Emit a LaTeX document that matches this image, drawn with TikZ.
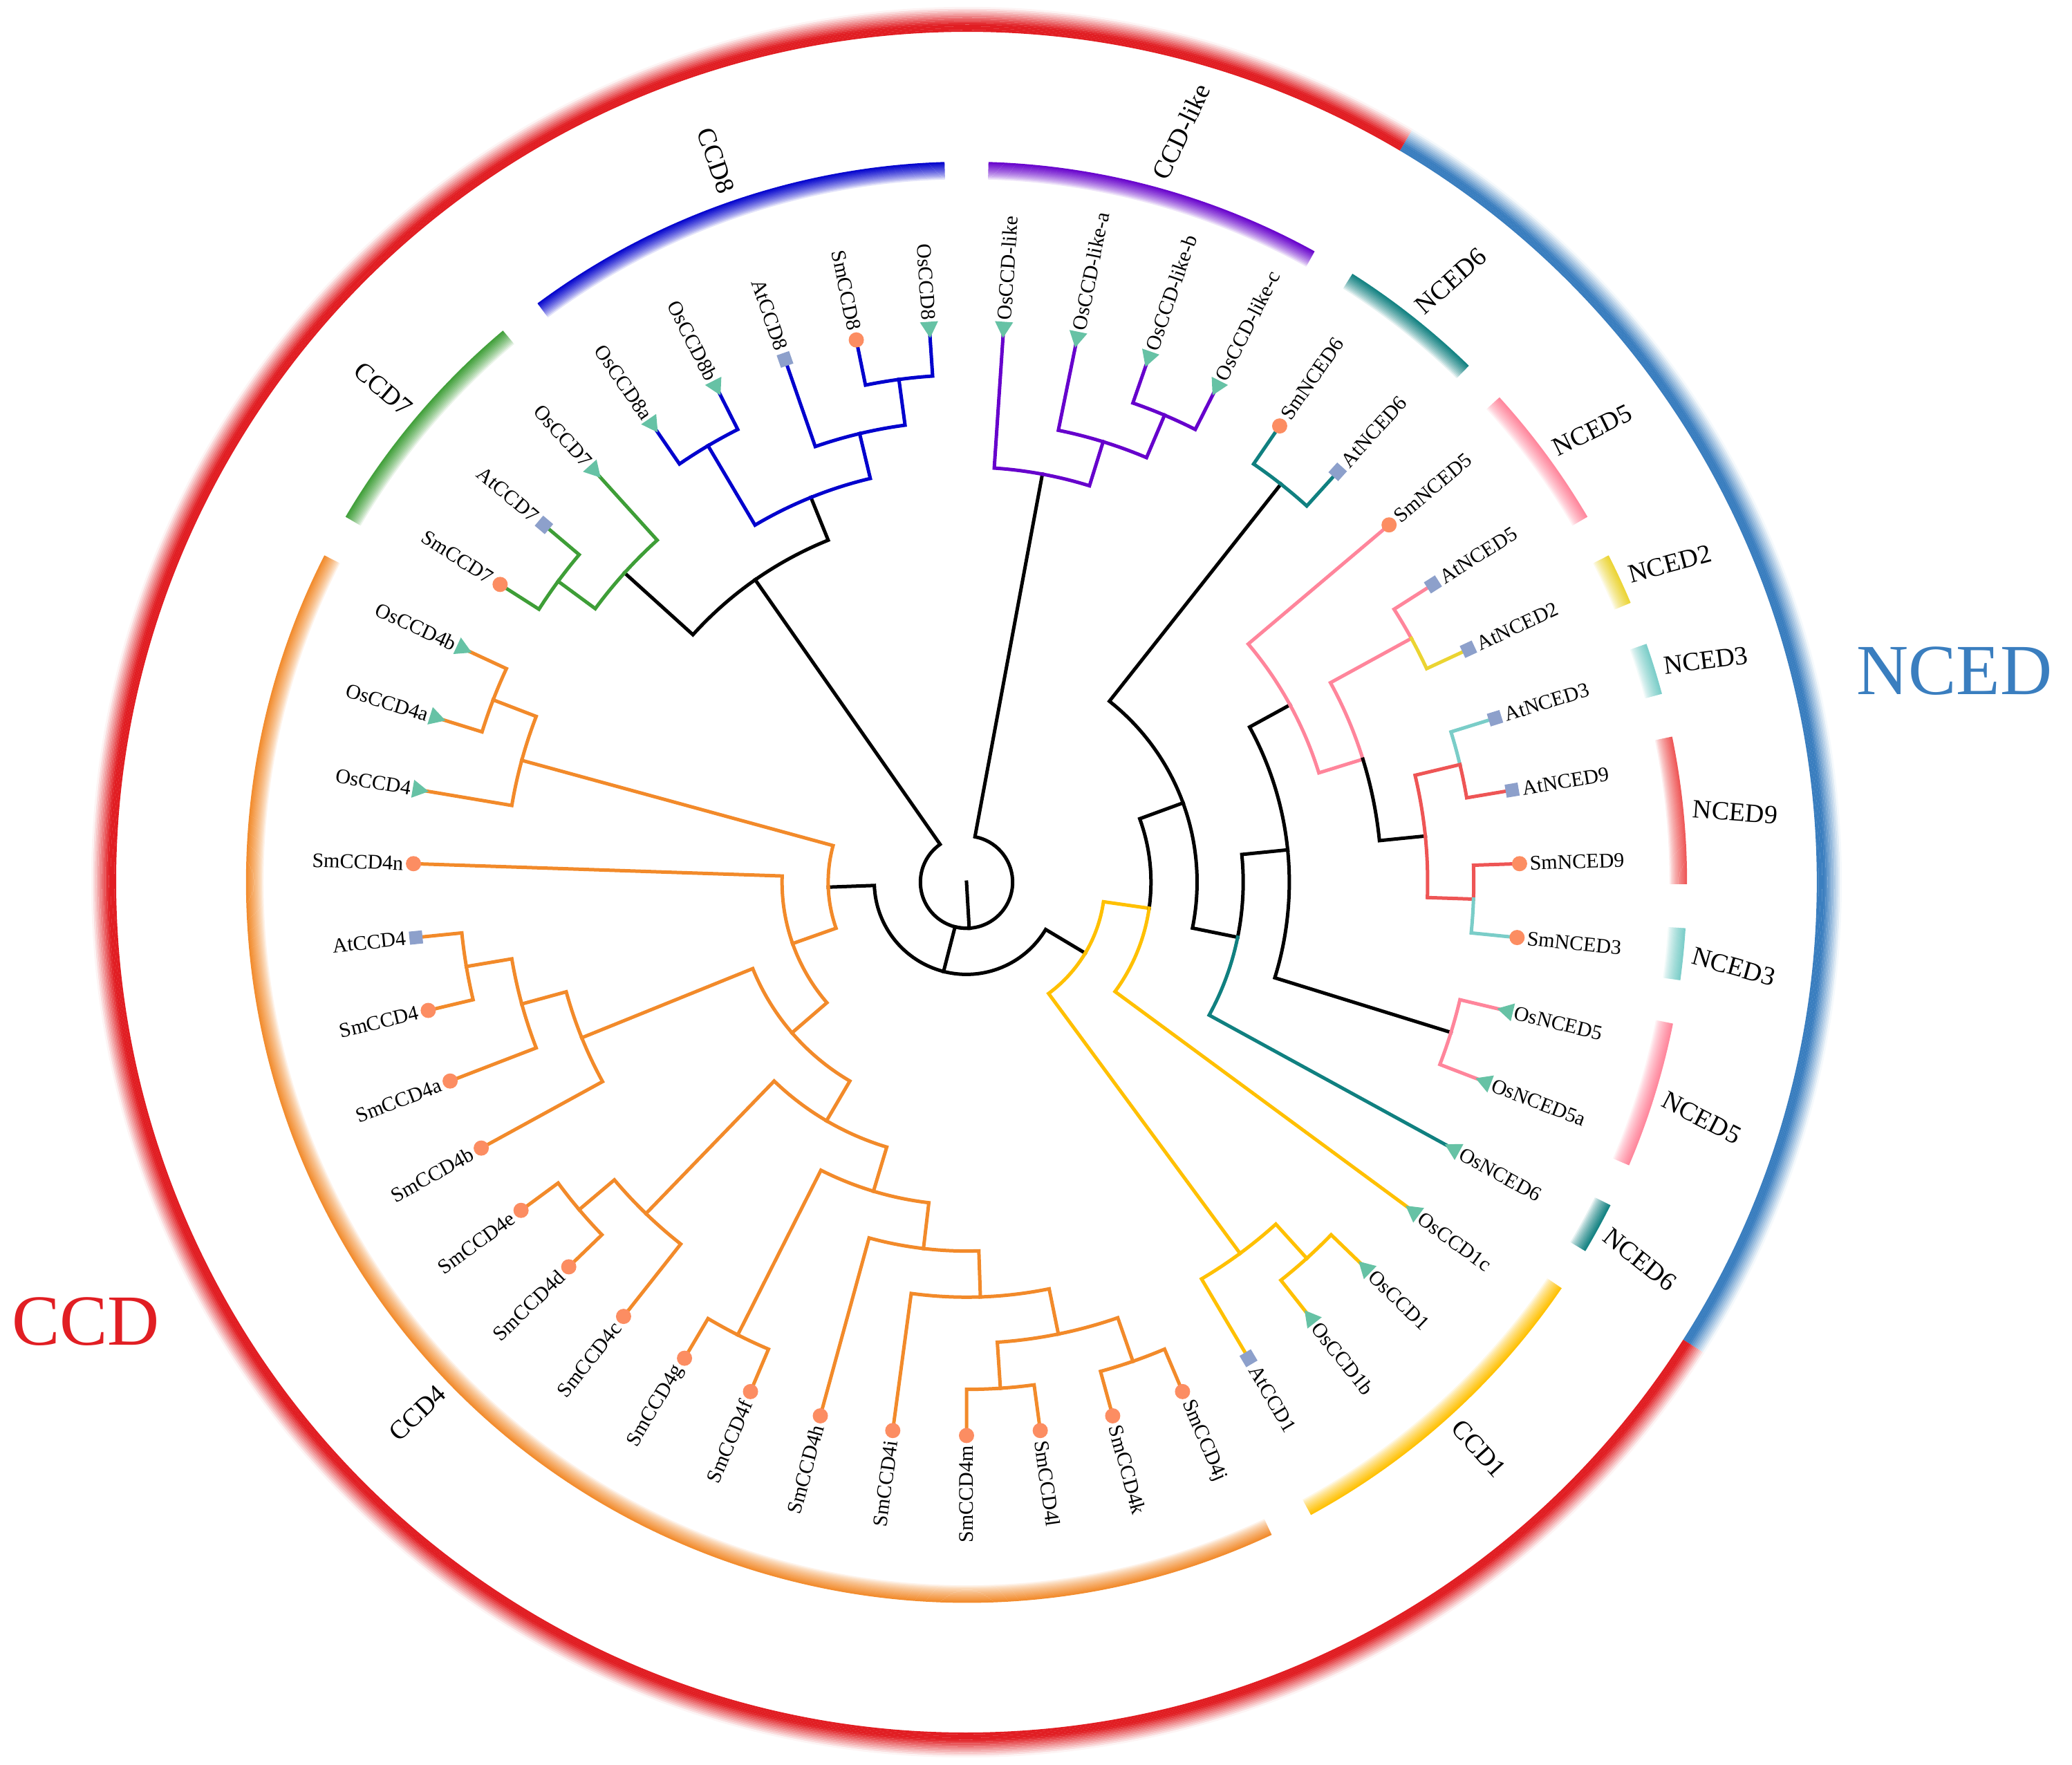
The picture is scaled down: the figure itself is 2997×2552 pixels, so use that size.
\documentclass[tikz,border=0pt]{standalone}
\usepackage{fontspec}
\setmainfont{Liberation Serif}
\definecolor{cpurple}{RGB}{102,0,204}
\definecolor{cblue}{RGB}{0,0,205}
\definecolor{cgreen}{RGB}{62,158,55}
\definecolor{cteal}{RGB}{16,128,128}
\definecolor{cpink}{RGB}{255,133,155}
\definecolor{cyeltwo}{RGB}{235,212,50}
\definecolor{clteal}{RGB}{122,205,200}
\definecolor{cred}{RGB}{238,85,85}
\definecolor{cgold}{RGB}{255,192,0}
\definecolor{corange}{RGB}{242,138,42}
\definecolor{bigred}{RGB}{225,30,35}
\definecolor{bigblue}{RGB}{58,126,191}
\definecolor{mos}{RGB}{102,194,165}
\definecolor{msm}{RGB}{252,141,98}
\definecolor{mat}{RGB}{141,160,203}
% edge: colour, parent, parent angle, parent radius, child angle, child
\newcommand\brc[6]{\draw[branch,draw=#1] (#2) arc[start angle=#3,end angle=#5,radius=#4pt] -- (#6);}
\newcommand\cladering[3]{%
  \foreach \k in {0,...,11}{%
    \pgfmathsetmacro\rr{1017+25*(\k+0.5)/12}%
    \pgfmathsetmacro\pc{100*((\k+0.5)/12)^0.7}%
    \draw[line width=2.5pt,line cap=butt,draw=#1!\pc!white] (#2:\rr) arc[start angle=#2,end angle=#3,radius=\rr pt];}}
\newcommand\bigring[3]{%
  \foreach \k in {0,...,13}{%
    \pgfmathsetmacro\rr{1230+36*(\k+0.5)/14}%
    \pgfmathsetmacro\pc{min(100,140*(1-(\k+0.5)/14))}%
    \draw[line width=2.8pt,line cap=butt,draw=#1!\pc!white] (#2:\rr) arc[start angle=#2,end angle=#3,radius=\rr pt];}}
\newcommand\leafmarkO[2]{\fill[mos] (#1:789) -- ({#1+0.93}:812.5) -- ({#1-0.93}:812.5) -- cycle;}
\newcommand\leafmarkS[2]{\fill[msm] (t#2) circle[radius=11pt];}
\newcommand\leafmarkA[2]{\node[fill=mat,minimum size=19pt,inner sep=0pt,rotate=#1] (m#2) at (t#2) {};}
\def\leaflist{0/86.170/O/OsCCD-like,1/78.511/O/OsCCD-like-a,2/70.851/O/OsCCD-like-b,3/63.191/O/OsCCD-like-c,
4/55.532/S/SmNCED6,5/47.872/A/AtNCED6,6/40.213/S/SmNCED5,7/32.553/A/AtNCED5,8/24.894/A/AtNCED2,
9/17.234/A/AtNCED3,10/9.574/A/AtNCED9,11/1.915/S/SmNCED9,12/-5.745/S/SmNCED3,13/-13.404/O/OsNCED5,
14/-21.064/O/OsNCED5a,15/-28.723/O/OsNCED6,16/-36.383/O/OsCCD1c,17/-44.043/O/OsCCD1,18/-51.702/O/OsCCD1b,
19/-59.362/A/AtCCD1,20/-67.021/S/SmCCD4j,21/-74.681/S/SmCCD4k,22/-82.340/S/SmCCD4l,23/-90.000/S/SmCCD4m,
24/-97.660/S/SmCCD4i,25/-105.319/S/SmCCD4h,26/-112.979/S/SmCCD4f,27/-120.638/S/SmCCD4g,28/-128.298/S/SmCCD4c,
29/-135.957/S/SmCCD4d,30/-143.617/S/SmCCD4e,31/-151.277/S/SmCCD4b,32/-158.936/S/SmCCD4a,33/-166.596/S/SmCCD4,
34/-174.255/A/AtCCD4,35/-181.915/S/SmCCD4n,36/-189.574/O/OsCCD4,37/-197.234/O/OsCCD4a,38/-204.894/O/OsCCD4b,
39/-212.553/S/SmCCD7,40/-220.213/A/AtCCD7,41/-227.872/O/OsCCD7,42/-235.532/O/OsCCD8a,43/-243.191/O/OsCCD8b,
44/-250.851/A/AtCCD8,45/-258.511/S/SmCCD8,46/-266.170/O/OsCCD8}
\begin{document}
\begin{tikzpicture}[x=1pt,y=1pt,
  branch/.style={line width=5pt,line cap=rect,line join=miter},
  lab/.style={font=\fontsize{30}{36}\selectfont,inner sep=0pt},
  clab/.style={font=\fontsize{38}{44}\selectfont,inner sep=0pt},
  biglab/.style={font=\fontsize{104}{120}\selectfont,inner sep=0pt}]
\useasboundingbox (-1398,-1276) rectangle (1599,1276);
% ---------- outer rings ----------
\bigring{bigblue}{59.361}{-32.553}
\bigring{bigred}{-32.553}{-300.639}
\node[biglab,text=bigred] (bigccd) at (-1274,-636) {CCD};
\node[biglab,text=bigblue] (bignced) at (1429,305) {NCED};
% ---------- clade rings ----------
\cladering{cpurple}{88.25}{61.111}
\cladering{cteal}{57.612}{45.792}
\cladering{cpink}{42.293}{30.473}
\cladering{cyeltwo}{26.974}{22.814}
\cladering{clteal}{19.314}{15.154}
\cladering{cred}{11.654}{-0.165}
\cladering{clteal}{-3.665}{-7.825}
\cladering{cpink}{-11.324}{-23.144}
\cladering{cteal}{-26.643}{-30.803}
\cladering{cgold}{-34.303}{-61.442}
\cladering{corange}{-64.941}{-206.974}
\cladering{cgreen}{-210.473}{-229.952}
\cladering{cblue}{-233.452}{-268.250}
\node[clab,anchor=west,rotate=64.68] (lb1) at (74.68:1056) {CCD-like};
\node[clab,anchor=west,rotate=41.702] (lb2) at (51.702:1056) {NCED6};
\node[clab,anchor=west,rotate=26.383] (lb3) at (36.383:1056) {NCED5};
\node[clab,anchor=west,rotate=14.894] (lb4) at (24.894:1056) {NCED2};
\node[clab,anchor=west,rotate=7.234] (lb5) at (17.234:1056) {NCED3};
\node[clab,anchor=west,rotate=-4.255] (lb6) at (5.745:1056) {NCED9};
\node[clab,anchor=west,rotate=-15.745] (lb7) at (-5.745:1056) {NCED3};
\node[clab,anchor=west,rotate=-27.234] (lb8) at (-17.234:1056) {NCED5};
\node[clab,anchor=west,rotate=-38.723] (lb9) at (-28.723:1056) {NCED6};
\node[clab,anchor=west,rotate=-47.872] (lb10) at (-47.872:1056) {CCD1};
\node[clab,anchor=east,rotate=44.043] (lb11) at (-135.957:1056) {CCD4};
\node[clab,anchor=east,rotate=-40.213] (lb12) at (-220.213:1056) {CCD7};
\node[clab,anchor=east,rotate=-70.851] (lb13) at (-250.851:1056) {CCD8};
% ---------- tree coordinates ----------
\foreach \i/\a/\t/\n in \leaflist {\coordinate (t\i) at (\a:800.4);}
\coordinate (ctr) at (0,0);
\coordinate (rt) at (-86.664:66.7);
\coordinate (Ncl) at (79.468:600.3);
\coordinate (X) at (72.766:667.0);
\coordinate (Y) at (67.021:733.7);
\coordinate (A) at (-104.407:133.4);
\coordinate (B) at (-30.878:200.1);
\coordinate (C) at (-8.138:266.8);
\coordinate (D) at (20.106:333.5);
\coordinate (E6) at (51.702:733.7);
\coordinate (F) at (-11.489:400.2);
\coordinate (G) at (5.745:466.9);
\coordinate (O5) at (-17.234:733.7);
\coordinate (H) at (28.723:533.6);
\coordinate (I) at (17.234:600.3);
\coordinate (J) at (28.723:733.7);
\coordinate (K) at (5.745:667.0);
\coordinate (L) at (13.404:733.7);
\coordinate (Lb) at (-1.915:733.7);
\coordinate (V) at (-53.617:667.0);
\coordinate (W) at (-47.872:733.7);
\coordinate (N4) at (-177.936:200.1);
\coordinate (Os4) at (-195.319:667.0);
\coordinate (Os4ab) at (-201.064:733.7);
\coordinate (N4b) at (-160.552:266.8);
\coordinate (N4c) at (-139.189:333.5);
\coordinate (N4e) at (-157.979:600.3);
\coordinate (N4f) at (-164.681:667.0);
\coordinate (N4g) at (-170.426:733.7);
\coordinate (N4d) at (-120.399:400.2);
\coordinate (N4h) at (-134.043:667.0);
\coordinate (N4i) at (-139.787:733.7);
\coordinate (N4j) at (-106.755:466.9);
\coordinate (N4k) at (-116.809:733.7);
\coordinate (N4l) at (-96.702:533.6);
\coordinate (N4m) at (-88.085:600.3);
\coordinate (N4n) at (-78.511:667.0);
\coordinate (N4o) at (-86.170:733.7);
\coordinate (N4p) at (-70.851:733.7);
\coordinate (M) at (-235.053:533.6);
\coordinate (P) at (-222.128:667.0);
\coordinate (Q) at (-216.383:733.7);
\coordinate (R) at (-247.979:600.3);
\coordinate (S) at (-239.362:733.7);
\coordinate (T) at (-256.596:667.0);
\coordinate (U) at (-262.340:733.7);
% ---------- branches ----------
\draw[branch] (ctr) -- (rt);
\brc{black}{rt}{-86.664}{66.7}{79.468}{Ncl}
\brc{black}{rt}{-86.664}{66.7}{-235.053}{M}
\brc{black}{rt}{-86.664}{66.7}{-104.407}{A}
% CCD-like
\brc{cpurple}{Ncl}{79.468}{600.3}{86.170}{t0}
\brc{cpurple}{Ncl}{79.468}{600.3}{72.766}{X}
\brc{cpurple}{X}{72.766}{667.0}{78.511}{t1}
\brc{cpurple}{X}{72.766}{667.0}{67.021}{Y}
\brc{cpurple}{Y}{67.021}{733.7}{70.851}{t2}
\brc{cpurple}{Y}{67.021}{733.7}{63.191}{t3}
% A
\brc{black}{A}{-104.407}{133.4}{-177.936}{N4}
\brc{black}{A}{-104.407}{133.4}{-30.878}{B}
\brc{cgold}{B}{-30.878}{200.1}{-8.138}{C}
\brc{cgold}{B}{-30.878}{200.1}{-53.617}{V}
\brc{black}{C}{-8.138}{266.8}{20.106}{D}
\brc{cgold}{C}{-8.138}{266.8}{-36.383}{t16}
\brc{black}{D}{20.106}{333.5}{51.702}{E6}
\brc{black}{D}{20.106}{333.5}{-11.489}{F}
\brc{cteal}{E6}{51.702}{733.7}{55.532}{t4}
\brc{cteal}{E6}{51.702}{733.7}{47.872}{t5}
\brc{black}{F}{-11.489}{400.2}{5.745}{G}
\brc{cteal}{F}{-11.489}{400.2}{-28.723}{t15}
\brc{black}{G}{5.745}{466.9}{28.723}{H}
\brc{black}{G}{5.745}{466.9}{-17.234}{O5}
\brc{cpink}{O5}{-17.234}{733.7}{-13.404}{t13}
\brc{cpink}{O5}{-17.234}{733.7}{-21.064}{t14}
\brc{cpink}{H}{28.723}{533.6}{40.213}{t6}
\brc{cpink}{H}{28.723}{533.6}{17.234}{I}
\brc{cpink}{I}{17.234}{600.3}{28.723}{J}
\brc{black}{I}{17.234}{600.3}{5.745}{K}
\brc{cpink}{J}{28.723}{733.7}{32.553}{t7}
\brc{cyeltwo}{J}{28.723}{733.7}{24.894}{t8}
\brc{cred}{K}{5.745}{667.0}{13.404}{L}
\brc{cred}{K}{5.745}{667.0}{-1.915}{Lb}
\brc{clteal}{L}{13.404}{733.7}{17.234}{t9}
\brc{cred}{L}{13.404}{733.7}{9.574}{t10}
\brc{cred}{Lb}{-1.915}{733.7}{1.915}{t11}
\brc{clteal}{Lb}{-1.915}{733.7}{-5.745}{t12}
\brc{cgold}{V}{-53.617}{667.0}{-47.872}{W}
\brc{cgold}{V}{-53.617}{667.0}{-59.362}{t19}
\brc{cgold}{W}{-47.872}{733.7}{-44.043}{t17}
\brc{cgold}{W}{-47.872}{733.7}{-51.702}{t18}
% CCD4
\brc{corange}{N4}{-177.936}{200.1}{-195.319}{Os4}
\brc{corange}{N4}{-177.936}{200.1}{-160.552}{N4b}
\brc{corange}{Os4}{-195.319}{667.0}{-189.574}{t36}
\brc{corange}{Os4}{-195.319}{667.0}{-201.064}{Os4ab}
\brc{corange}{Os4ab}{-201.064}{733.7}{-197.234}{t37}
\brc{corange}{Os4ab}{-201.064}{733.7}{-204.894}{t38}
\brc{corange}{N4b}{-160.552}{266.8}{-181.915}{t35}
\brc{corange}{N4b}{-160.552}{266.8}{-139.189}{N4c}
\brc{corange}{N4c}{-139.189}{333.5}{-157.979}{N4e}
\brc{corange}{N4c}{-139.189}{333.5}{-120.399}{N4d}
\brc{corange}{N4e}{-157.979}{600.3}{-164.681}{N4f}
\brc{corange}{N4e}{-157.979}{600.3}{-151.277}{t31}
\brc{corange}{N4f}{-164.681}{667.0}{-170.426}{N4g}
\brc{corange}{N4f}{-164.681}{667.0}{-158.936}{t32}
\brc{corange}{N4g}{-170.426}{733.7}{-174.255}{t34}
\brc{corange}{N4g}{-170.426}{733.7}{-166.596}{t33}
\brc{corange}{N4d}{-120.399}{400.2}{-134.043}{N4h}
\brc{corange}{N4d}{-120.399}{400.2}{-106.755}{N4j}
\brc{corange}{N4h}{-134.043}{667.0}{-139.787}{N4i}
\brc{corange}{N4h}{-134.043}{667.0}{-128.298}{t28}
\brc{corange}{N4i}{-139.787}{733.7}{-143.617}{t30}
\brc{corange}{N4i}{-139.787}{733.7}{-135.957}{t29}
\brc{corange}{N4j}{-106.755}{466.9}{-116.809}{N4k}
\brc{corange}{N4j}{-106.755}{466.9}{-96.702}{N4l}
\brc{corange}{N4k}{-116.809}{733.7}{-120.638}{t27}
\brc{corange}{N4k}{-116.809}{733.7}{-112.979}{t26}
\brc{corange}{N4l}{-96.702}{533.6}{-105.319}{t25}
\brc{corange}{N4l}{-96.702}{533.6}{-88.085}{N4m}
\brc{corange}{N4m}{-88.085}{600.3}{-97.660}{t24}
\brc{corange}{N4m}{-88.085}{600.3}{-78.511}{N4n}
\brc{corange}{N4n}{-78.511}{667.0}{-86.170}{N4o}
\brc{corange}{N4n}{-78.511}{667.0}{-70.851}{N4p}
\brc{corange}{N4o}{-86.170}{733.7}{-90.000}{t23}
\brc{corange}{N4o}{-86.170}{733.7}{-82.340}{t22}
\brc{corange}{N4p}{-70.851}{733.7}{-74.681}{t21}
\brc{corange}{N4p}{-70.851}{733.7}{-67.021}{t20}
% CCD7 / CCD8
\brc{black}{M}{-235.053}{533.6}{-222.128}{P}
\brc{black}{M}{-235.053}{533.6}{-247.979}{R}
\brc{cgreen}{P}{-222.128}{667.0}{-216.383}{Q}
\brc{cgreen}{P}{-222.128}{667.0}{-227.872}{t41}
\brc{cgreen}{Q}{-216.383}{733.7}{-212.553}{t39}
\brc{cgreen}{Q}{-216.383}{733.7}{-220.213}{t40}
\brc{cblue}{R}{-247.979}{600.3}{-239.362}{S}
\brc{cblue}{R}{-247.979}{600.3}{-256.596}{T}
\brc{cblue}{S}{-239.362}{733.7}{-235.532}{t42}
\brc{cblue}{S}{-239.362}{733.7}{-243.191}{t43}
\brc{cblue}{T}{-256.596}{667.0}{-250.851}{t44}
\brc{cblue}{T}{-256.596}{667.0}{-262.340}{U}
\brc{cblue}{U}{-262.340}{733.7}{-258.511}{t45}
\brc{cblue}{U}{-262.340}{733.7}{-266.170}{t46}
% ---------- leaf markers and labels ----------
\foreach \i/\a/\t/\n in \leaflist {%
  \csname leafmark\t\endcsname{\a}{\i}%
  \ifnum\i<23
    \node[lab,anchor=west,rotate=\a] (n\i) at (\a:815) {\n};
  \else
    \node[lab,anchor=east,rotate=\a+180] (n\i) at (\a:815) {\n};
  \fi}
\end{tikzpicture}
\end{document}
